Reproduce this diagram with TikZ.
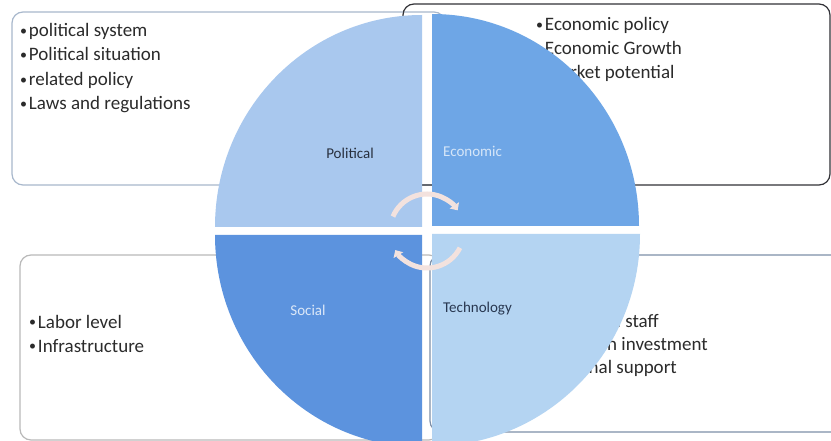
\documentclass[tikz,border=0pt]{standalone}
\usepackage{fontspec}
\setmainfont{Carlito}
\usetikzlibrary{arrows.meta,calc}
\definecolor{polc}{HTML}{A9C8EE}
\definecolor{ecoc}{HTML}{6EA6E6}
\definecolor{socc}{HTML}{5C93DE}
\definecolor{tecc}{HTML}{B4D4F2}
\definecolor{txt}{HTML}{2B2B2B}
\definecolor{arrc}{HTML}{F3E2DE}
\definecolor{pbox}{HTML}{A8B8CC}
\definecolor{ebox}{HTML}{323237}
\definecolor{sbox}{HTML}{B9B9B9}
\definecolor{tbox}{HTML}{7D8FA8}
\definecolor{plab}{HTML}{28303E}
\definecolor{elab}{HTML}{D6E6F8}
\definecolor{slab}{HTML}{DCE8F8}
\definecolor{tlab}{HTML}{283750}
\newcommand\mybul{\raisebox{1.2pt}{\fontsize{14}{14}\selectfont•}\hspace{1.8pt}}
\begin{document}
\begin{tikzpicture}[x=1pt,y=-1pt,
  boxline/.style={rounded corners=11pt,line width=1.2pt},
  bul/.style={font=\fontsize{19}{23}\selectfont,text=txt,inner sep=0pt,anchor=base west},
  bulr/.style={font=\fontsize{19}{23}\selectfont,text=txt,inner sep=0pt,anchor=base east},
  lab/.style={font=\fontsize{15}{18}\selectfont,inner sep=0pt},
  cyc/.style={arrc,line width=5pt,-{Triangle[width=11pt,length=6pt]}}]
\useasboundingbox[fill=white] (0,0) rectangle (831,441);
% boxes
\draw[boxline,draw=pbox] (12,12) rectangle (445,185);
\draw[boxline,draw=ebox] (403,4) rectangle (830,185);
\draw[boxline,draw=sbox] (20,255) rectangle (440,440);
\draw[boxline,draw=tbox] (430,255) rectangle (850,432);
% box texts
\node[bul] (p1) at (20,37) {\mybul political system};
\node[bul] (p2) at (20,61) {\mybul Political situation};
\node[bul] (p3) at (20,86) {\mybul related policy};
\node[bul] (p4) at (20,110) {\mybul Laws and regulations};
\node[bul] (e1) at (536,31) {\mybul Economic policy};
\node[bul] (e2) at (536,55) {\mybul Economic Growth};
\node[bul] (e3) at (536,79) {\mybul Market potential};
\node[bul] (s1) at (29,328) {\mybul Labor level};
\node[bul] (s2) at (29,352) {\mybul Infrastructure};
\node[bulr] (t1) at (659,327) {\mybul Technical staff};
\node[bulr] (t2) at (708,350) {\mybul Innovation investment};
\node[bulr] (t3) at (677,373) {\mybul National support};
% quadrants
\fill[polc] (422,227) -- ++(-207,0) arc[start angle=180,end angle=270,x radius=207,y radius=212] -- cycle;
\fill[ecoc] (432,226) -- ++(0,-212) arc[start angle=270,end angle=360,x radius=207,y radius=212] -- cycle;
\fill[tecc] (432,234) -- ++(208,0) arc[start angle=0,end angle=90,x radius=208,y radius=212] -- cycle;
\fill[socc] (422,235) -- ++(0,212) arc[start angle=90,end angle=180,x radius=207,y radius=212] -- cycle;
% cycle arrows
\coordinate (cc) at (427,231);
\draw[cyc] ($(cc)+(203:37)$) arc[start angle=203,end angle=326,radius=37];
\draw[cyc] ($(cc)+(27:37)$) arc[start angle=27,end angle=149,radius=37];
% labels
\node[lab,text=plab] (lp) at (350,153) {Political};
\node[lab,text=elab,anchor=west] (le) at (443,151) {Economic};
\node[lab,text=slab] (ls) at (308,310) {Social};
\node[lab,text=tlab,anchor=west] (lt) at (443,309) {Technology};
\end{tikzpicture}
\end{document}
